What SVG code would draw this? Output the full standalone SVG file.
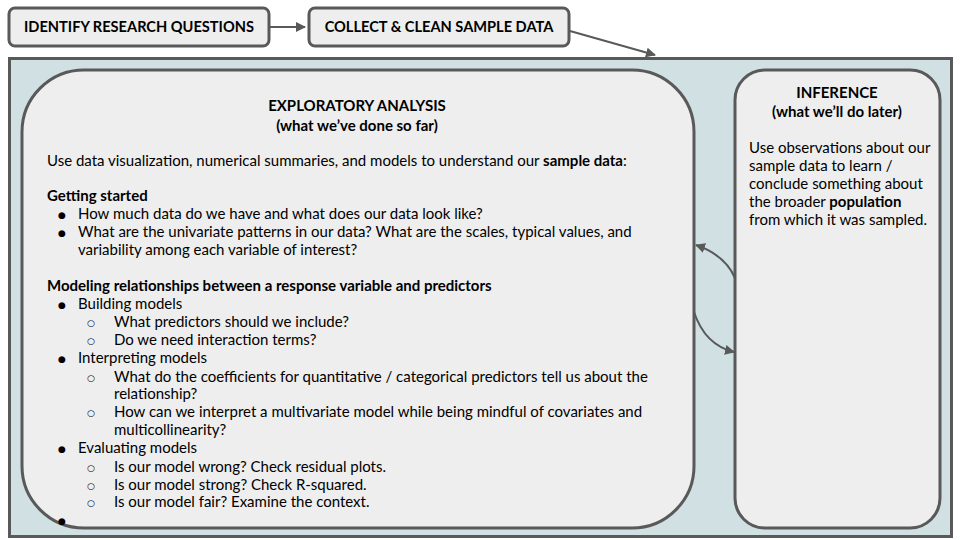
<svg xmlns="http://www.w3.org/2000/svg" width="960" height="540" viewBox="0 0 960 540">
<defs>
<style>
.box{fill:#eeeeee;stroke:#595959;stroke-width:3}
.t{font-family:Lato,"Open Sans","Liberation Sans",sans-serif;font-size:15px;fill:#000}
.h{font-size:14.6px}
.b{font-weight:bold}
.c{text-anchor:middle}
.d{font-family:"DejaVu Sans",sans-serif;font-size:9px;text-anchor:middle;fill:#000}
.conn{fill:none;stroke:#595959;stroke-width:2}
</style>
<marker id="ah" viewBox="0 0 10 10" refX="9" refY="5" markerWidth="5" markerHeight="5" orient="auto-start-reverse" markerUnits="strokeWidth">
<path d="M0,0 L10,5 L0,10 z" fill="#595959"/>
</marker>
</defs>
<rect width="960" height="540" fill="#ffffff"/>
<g id="container">
<rect x="9.5" y="58.5" width="942" height="478" fill="#d0e0e3" stroke="#595959" stroke-width="3"/>
</g>
<g id="identify">
<rect class="box" x="9" y="8" width="260" height="38" rx="6"/>
<text class="t h b c" x="139" y="32">IDENTIFY RESEARCH QUESTIONS</text>
</g>
<g id="collect">
<rect class="box" x="309" y="8" width="260" height="38" rx="6"/>
<text class="t h b c" x="439" y="32">COLLECT &amp; CLEAN SAMPLE DATA</text>
</g>
<g id="exploratory">
<rect class="box" x="22" y="70" width="672" height="458" rx="62"/>
<text class="t b c" x="357" y="111">EXPLORATORY ANALYSIS</text>
<text class="t b c" x="357" y="131">(what we’ve done so far)</text>
<text class="t" x="47" y="166">Use data visualization, numerical summaries, and models to understand our <tspan class="b">sample data</tspan>:</text>
<text class="t b" x="47" y="201">Getting started</text>
<text class="d" x="62" y="218">●</text><text class="t" x="78" y="219">How much data do we have and what does our data look like?</text>
<text class="d" x="62" y="236">●</text><text class="t" x="78" y="237">What are the univariate patterns in our data? What are the scales, typical values, and</text>
<text class="t" x="78" y="255">variability among each variable of interest?</text>
<text class="t b" x="47" y="291">Modeling relationships between a response variable and predictors</text>
<text class="d" x="62" y="308">●</text><text class="t" x="78" y="309">Building models</text>
<text class="d" x="91" y="326">○</text><text class="t" x="114" y="327">What predictors should we include?</text>
<text class="d" x="91" y="344">○</text><text class="t" x="114" y="345">Do we need interaction terms?</text>
<text class="d" x="62" y="362">●</text><text class="t" x="78" y="363">Interpreting models</text>
<text class="d" x="91" y="381">○</text><text class="t" x="114" y="382">What do the coefficients for quantitative / categorical predictors tell us about the</text>
<text class="t" x="114" y="399">relationship?</text>
<text class="d" x="91" y="416">○</text><text class="t" x="114" y="417">How can we interpret a multivariate model while being mindful of covariates and</text>
<text class="t" x="114" y="435">multicollinearity?</text>
<text class="d" x="62" y="452">●</text><text class="t" x="78" y="453">Evaluating models</text>
<text class="d" x="91" y="471">○</text><text class="t" x="114" y="472">Is our model wrong? Check residual plots.</text>
<text class="d" x="91" y="489">○</text><text class="t" x="114" y="490">Is our model strong? Check R-squared.</text>
<text class="d" x="91" y="506">○</text><text class="t" x="114" y="507">Is our model fair? Examine the context.</text>
<text class="d" x="62" y="524">●</text>
</g>
<g id="inference">
<rect class="box" x="735" y="70" width="205" height="458" rx="30"/>
<text class="t b c" x="837" y="98">INFERENCE</text>
<text class="t b c" x="837" y="117">(what we’ll do later)</text>
<text class="t" x="749" y="153">Use observations about our</text>
<text class="t" x="749" y="171">sample data to learn /</text>
<text class="t" x="749" y="189">conclude something about</text>
<text class="t" x="749" y="207">the broader <tspan class="b">population</tspan></text>
<text class="t" x="749" y="225">from which it was sampled.</text>
</g>
<g id="connectors">
<line class="conn" x1="270" y1="27" x2="305" y2="27" marker-end="url(#ah)"/>
<line class="conn" x1="570" y1="31" x2="655" y2="55" marker-end="url(#ah)"/>
<path class="conn" d="M735,278 Q725,255 696,245" marker-end="url(#ah)"/>
<path class="conn" d="M694,312 Q705,345 734,352" marker-end="url(#ah)"/>
</g>
</svg>
